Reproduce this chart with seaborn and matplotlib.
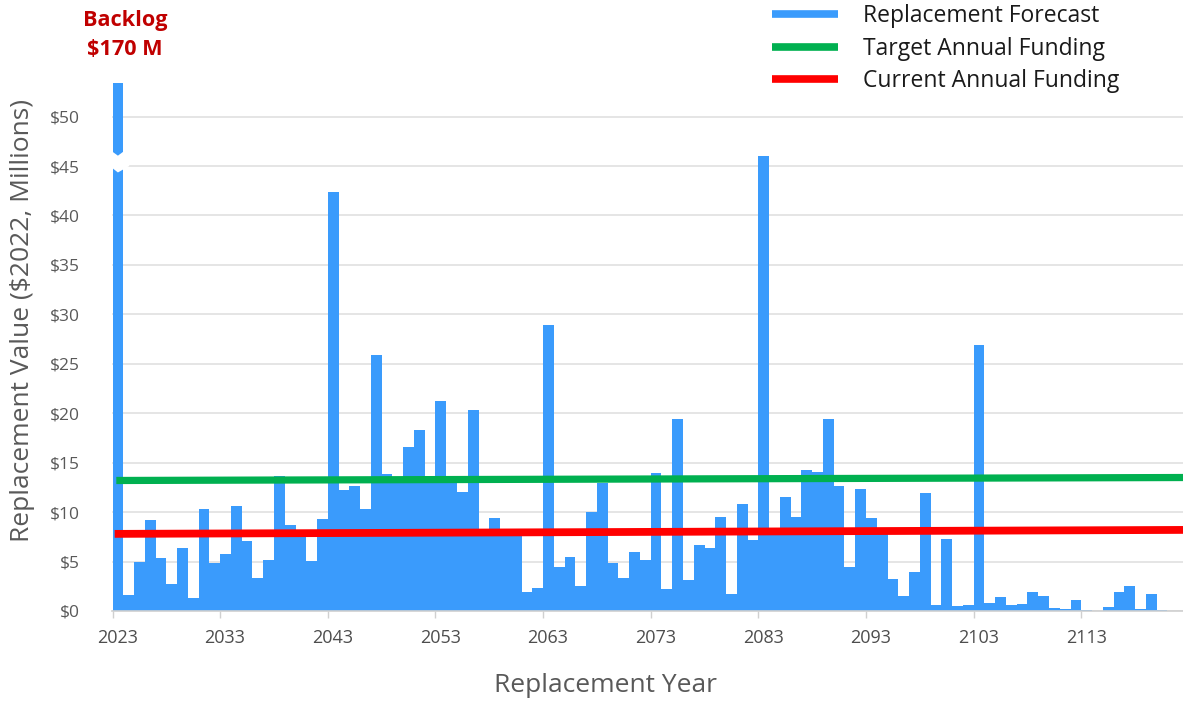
import numpy as np
import pandas as pd
import seaborn as sns
import matplotlib
matplotlib.use("Agg")
import matplotlib.pyplot as plt
from matplotlib.lines import Line2D
from matplotlib.patches import Polygon

# Annual replacement forecast ($2022, millions); 2023 carries the backlog
years = list(range(2023, 2121))
replacement = [
    170.0, 1.6, 5.0, 9.2, 5.4, 2.75, 6.4, 1.3, 10.3, 4.85,     # 2023-2032
    5.75, 10.6, 7.1, 3.35, 5.15, 13.7, 8.7, 8.0, 5.1, 9.3,     # 2033-2042
    42.4, 12.2, 12.6, 10.3, 25.9, 13.9, 13.5, 16.6, 18.3, 13.5,  # 2043-2052
    21.2, 13.5, 12.0, 20.3, 8.1, 9.4, 8.1, 8.1, 1.9, 2.3,      # 2053-2062
    28.9, 4.5, 5.5, 2.5, 10.0, 12.9, 4.9, 3.3, 6.0, 5.15,      # 2063-2072
    14.0, 2.25, 19.4, 3.1, 6.7, 6.4, 9.5, 1.7, 10.8, 7.2,      # 2073-2082
    46.0, 8.1, 11.5, 9.5, 14.3, 14.1, 19.4, 12.6, 4.45, 12.3,  # 2083-2092
    9.4, 8.0, 3.25, 1.5, 3.9, 11.9, 0.65, 7.3, 0.5, 0.65,      # 2093-2102
    26.9, 0.8, 1.45, 0.6, 0.7, 1.9, 1.5, 0.35, 0.25, 1.1,      # 2103-2112
    0.08, 0.0, 0.45, 1.9, 2.5, 0.2, 1.75, 0.08,                # 2113-2120
]

backlog_label = "Backlog\n$170 M"

# Funding levels (start, end) across the horizon
target_funding = [13.2, 13.5]
current_funding = [7.8, 8.2]

ytick_values = list(range(0, 55, 5))
ytick_labels = [f"${v}" for v in ytick_values]
xtick_years = list(range(2023, 2120, 10))

series_labels = ["Replacement Forecast", "Target Annual Funding", "Current Annual Funding"]
x_title = "Replacement Year"
y_title = "Replacement Value ($2022, Millions)"

BLUE = "#3A9BFC"
GREEN = "#00B050"
RED = "#FF0000"
GRID = "#E0E0E0"
TXT = "#595959"

df = pd.DataFrame({"year": years, "value": replacement})

sns.set_theme(style="white")
plt.rcParams["font.family"] = ["Open Sans", "DejaVu Sans"]

W, H = 1183, 702
fig = plt.figure(figsize=(W / 100, H / 100), dpi=100)
fig.patch.set_facecolor("white")
ax = fig.add_axes([112 / W, 1 - 611 / H, (W - 112) / W, (611 - 83) / H])

sns.histplot(data=df, x="year", weights="value", binwidth=1,
             binrange=(2023, 2121), color=BLUE, alpha=1.0,
             linewidth=0, element="bars", ax=ax, zorder=2)

x_end = 2122.45
ax.set_xlim(2022.95, x_end)
ax.set_ylim(0, 53.4)

# funding lines
ax.plot([2023.35, x_end], target_funding, color=GREEN, lw=5.2,
        solid_capstyle="butt", zorder=4)
ax.plot([2023.2, x_end], current_funding, color=RED, lw=5.6,
        solid_capstyle="butt", zorder=4)

# axis break on the backlog bar
brk = Polygon([(2022.8, 46.6), (2023.5, 46.05), (2024.55, 46.9),
               (2024.55, 45.0), (2023.5, 44.35), (2022.8, 44.95)],
              closed=True, facecolor="white", edgecolor="none", zorder=3)
ax.add_patch(brk)

# grid and axes styling
ax.set_yticks(ytick_values)
ax.set_yticklabels(ytick_labels, color=TXT, fontsize=12.5)
ax.yaxis.grid(True, color=GRID, lw=1.2)
ax.set_axisbelow(True)

# year labels sit just right of the decade tick marks
ax.set_xticks([y + 0.45 for y in xtick_years])
ax.set_xticklabels([str(y) for y in xtick_years], color="#4D4D4D", fontsize=13)
ax.set_xticks(xtick_years, minor=True)
ax.tick_params(axis="y", length=0, pad=23)
ax.tick_params(axis="x", which="major", length=0, pad=13)
ax.tick_params(axis="x", which="minor", length=5, width=1, color="#D0D0D0",
               bottom=True)
for side in ["left", "right", "top"]:
    ax.spines[side].set_visible(False)
ax.spines["bottom"].set_color("#D0D0D0")
ax.spines["bottom"].set_linewidth(1.2)
ax.set_xlabel("")
ax.set_ylabel("")

fig.text(605 / W, 1 - 686 / H, x_title, fontsize=19, color=TXT,
         ha="center", va="center")
fig.text(23 / W, 1 - 321 / H, y_title, fontsize=19, color=TXT,
         ha="center", va="center", rotation=90)

fig.text(125 / W, 1 - 35 / H, backlog_label, color="#C00000", fontsize=15.6,
         fontweight="bold", ha="center", va="center", linespacing=1.45)

handles = [Line2D([0], [0], color=c, lw=5.5, solid_capstyle="butt")
           for c in (BLUE, GREEN, RED)]
leg = fig.legend(handles, series_labels, loc="upper left",
                 bbox_to_anchor=(772 / W, 1 - 4 / H), frameon=False,
                 fontsize=16.5, handlelength=2.9, handletextpad=1.05,
                 labelspacing=0.38, borderpad=0, borderaxespad=0)
for t in leg.get_texts():
    t.set_color("#1A1A1A")

fig.savefig("out.png", dpi=100, facecolor="white")
